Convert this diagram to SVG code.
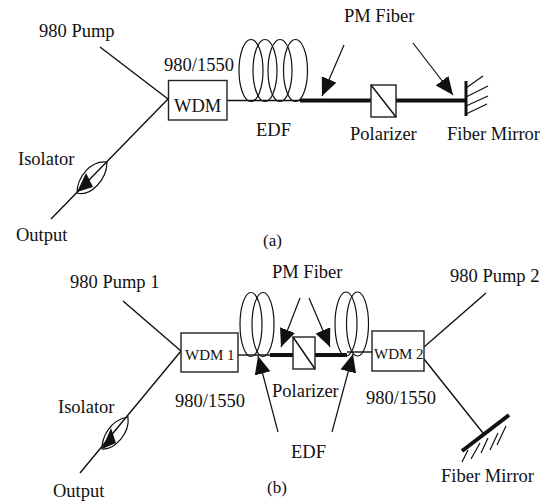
<svg xmlns="http://www.w3.org/2000/svg" width="544" height="502" viewBox="0 0 544 502">
<style>
text{font-family:"Liberation Serif","Times New Roman",serif;font-size:18.5px;fill:#111}
.s{font-size:15px}
.c{font-size:17px}
.l{fill:none;stroke:#111;stroke-width:1.4}
.t{fill:none;stroke:#111;stroke-width:1.2}
.k{fill:none;stroke:#111;stroke-width:4}
.b{fill:#fff;stroke:#222;stroke-width:1.4}
.h{fill:#111;stroke:none}
</style>
<defs>
<marker id="head" markerUnits="userSpaceOnUse" markerWidth="20" markerHeight="18" refX="18" refY="8" orient="auto"><path d="M0 0L18 8L0 16Z" fill="#111"/></marker>
</defs>
<rect width="544" height="502" fill="#fff"/>
<g id="connectors">
<path class="l" d="M100 47L168 99M168 99L51 219"/>
<path class="l" d="M227 100.500H300"/>
<path class="k" d="M300 100.500H466"/>
<path class="t" d="M344 45L322 96" marker-end="url(#head)"/>
<path class="t" d="M413 43L453 95" marker-end="url(#head)"/>
<path class="l" d="M123 301L181 351M181 351L80 473"/>
<path class="l" d="M238 355H270"/>
<path class="k" d="M270 355H293M315 355H347"/>
<path class="l" d="M347 352H372"/>
<path class="t" d="M300 298L281 347" marker-end="url(#head)"/>
<path class="t" d="M309 298L330 347" marker-end="url(#head)"/>
<path class="t" d="M278 432L258 356" marker-end="url(#head)"/>
<path class="t" d="M332 432L353 354" marker-end="url(#head)"/>
<path class="l" d="M424 347L486 293M424 359L483 433"/>
</g>
<g id="pump-a"><text x="39" y="37">980 Pump</text></g>
<g id="wdm-a"><rect class="b" x="168.500" y="80.500" width="58.500" height="39.500"/><text x="174" y="112">WDM</text><text x="164" y="71">980/1550</text></g>
<g id="edf-a"><ellipse class="t" cx="251" cy="70.500" rx="12" ry="31"/><ellipse class="t" cx="265" cy="70.500" rx="12" ry="31"/><ellipse class="t" cx="280" cy="70.500" rx="12" ry="31"/><ellipse class="t" cx="295.500" cy="70.500" rx="12" ry="31"/><text x="256" y="136">EDF</text></g>
<g id="pm-a"><text x="344" y="22">PM Fiber</text></g>
<g id="polarizer-a"><rect class="b" x="371" y="85" width="25" height="32"/><path class="l" d="M371 85L396 117"/><text x="350" y="140">Polarizer</text></g>
<g id="mirror-a"><path class="k" style="stroke-width:3" d="M466 81V116"/><path class="t" d="M466 88L483 76M466 97L488 86M466 106L488 96M466 114L487 104"/><text x="447" y="140">Fiber Mirror</text></g>
<g id="isolator-a"><path class="t" d="M107 162C90 160 77 178 77 193C90 197 107 180 107 162Z"/><path class="h" d="M77 192L86 173L93 187Z"/><text x="18" y="165">Isolator</text></g>
<g id="output-a"><text x="16" y="241">Output</text></g>
<g id="label-a"><text class="c" x="263" y="246">(a)</text></g>
<g id="pump1"><text x="70" y="288">980 Pump 1</text></g>
<g id="wdm1"><rect class="b" x="181" y="333" width="57" height="39"/><text class="s" x="185" y="360">WDM 1</text><text x="175" y="407">980/1550</text></g>
<g id="edf-b1"><ellipse class="t" cx="251" cy="324.500" rx="11" ry="32"/><ellipse class="t" cx="263" cy="324.500" rx="11" ry="32"/></g>
<g id="pm-b"><text x="272" y="278">PM Fiber</text></g>
<g id="polarizer-b"><rect class="b" x="293" y="337" width="22" height="32"/><path class="l" d="M293 337L315 369"/><text x="272" y="397">Polarizer</text></g>
<g id="edf-b2"><ellipse class="t" cx="346" cy="324" rx="11" ry="32"/><ellipse class="t" cx="357.500" cy="324" rx="11" ry="32"/></g>
<g id="edf-label"><text x="291" y="458">EDF</text></g>
<g id="wdm2"><rect class="b" x="372" y="331" width="52" height="40"/><text class="s" x="374" y="359">WDM 2</text><text x="366" y="404">980/1550</text></g>
<g id="pump2"><text x="450" y="282">980 Pump 2</text></g>
<g id="mirror-b"><path class="k" d="M462 451L509 415"/><path class="t" d="M462 462L468 450M471 459L480 443M481 453L488 438M490 450L498 433M497 445L506 426"/><text x="441" y="482">Fiber Mirror</text></g>
<g id="isolator-b"><path class="t" d="M128 417C110 420 102 437 102 449C115 450 130 433 128 417Z"/><path class="h" d="M102 449L111 428L116 443Z"/><text x="58" y="413">Isolator</text></g>
<g id="output-b"><text x="53" y="497">Output</text></g>
<g id="label-b"><text class="c" x="267" y="493">(b)</text></g>
</svg>
